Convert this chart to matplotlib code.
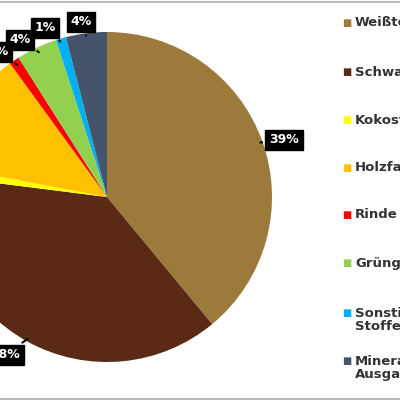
import matplotlib
matplotlib.use("Agg")
import matplotlib.pyplot as plt
import numpy as np

labels = ["Weißtorf", "Schwarztorf", "Kokosfasern", "Holzfasern", "Rinde", "Grüngut",
          "Sonstige\nStoffe", "Mineralische\nAusgangsstoffe"]
values = [39, 38, 1, 12, 1, 4, 1, 4]
colors = ["#9C7A3C", "#5A2A14", "#FFFF00", "#FFC000", "#FF0000", "#92D050", "#00B0F0", "#44546A"]
legend_y = [23, 72, 120, 168, 215, 263, 320, 368]

fig = plt.figure(figsize=(4, 4), dpi=100)
ax = fig.add_axes([0, 0, 1, 1])
cx, cy, R = 107, 197, 165
ax.axis("off")
wedges, _ = ax.pie(values, colors=colors, startangle=90, counterclock=False, radius=1,
                   wedgeprops=dict(linewidth=0))
ax.set_aspect("auto")
ax.set_xlim(-cx / R, (400 - cx) / R)
ax.set_ylim(-(400 - cy) / R, cy / R)

def px(x, y):
    return ((x - cx) / R, (cy - y) / R)

lab_pos = {0: (284, 140), 1: (5, 355), 4: (-2, 52), 5: (20, 40), 6: (45, 28), 7: (81, 22)}
for i, (lx, ly) in lab_pos.items():
    w = wedges[i]
    ang = np.deg2rad((w.theta1 + w.theta2) / 2)
    tip = (0.97 * np.cos(ang), 0.97 * np.sin(ang))
    ax.annotate(f"{values[i]}%", xy=tip, xytext=px(lx, ly), ha="center", va="center",
                color="white", fontsize=9, fontweight="bold",
                bbox=dict(boxstyle="square,pad=0.3", fc="black", ec="black"),
                arrowprops=dict(arrowstyle="-", color="black", lw=1.5))

for lab, col, y in zip(labels, colors, legend_y):
    n = lab.count("\n")
    fig.text(342 / 400, 1 - (y - n * 7) / 400, "■", color=col, fontsize=7, va="center", ha="left")
    fig.text(355 / 400, 1 - y / 400, lab, color="#333333", fontsize=9.5, fontweight="bold",
             va="center", ha="left", linespacing=1.0)

fig.add_artist(plt.Line2D([0, 1], [0.995, 0.995], color="#bbbbbb", lw=1.5))
fig.add_artist(plt.Line2D([0, 1], [0.003, 0.003], color="#bbbbbb", lw=1.5))
fig.savefig("out.png", dpi=100)
